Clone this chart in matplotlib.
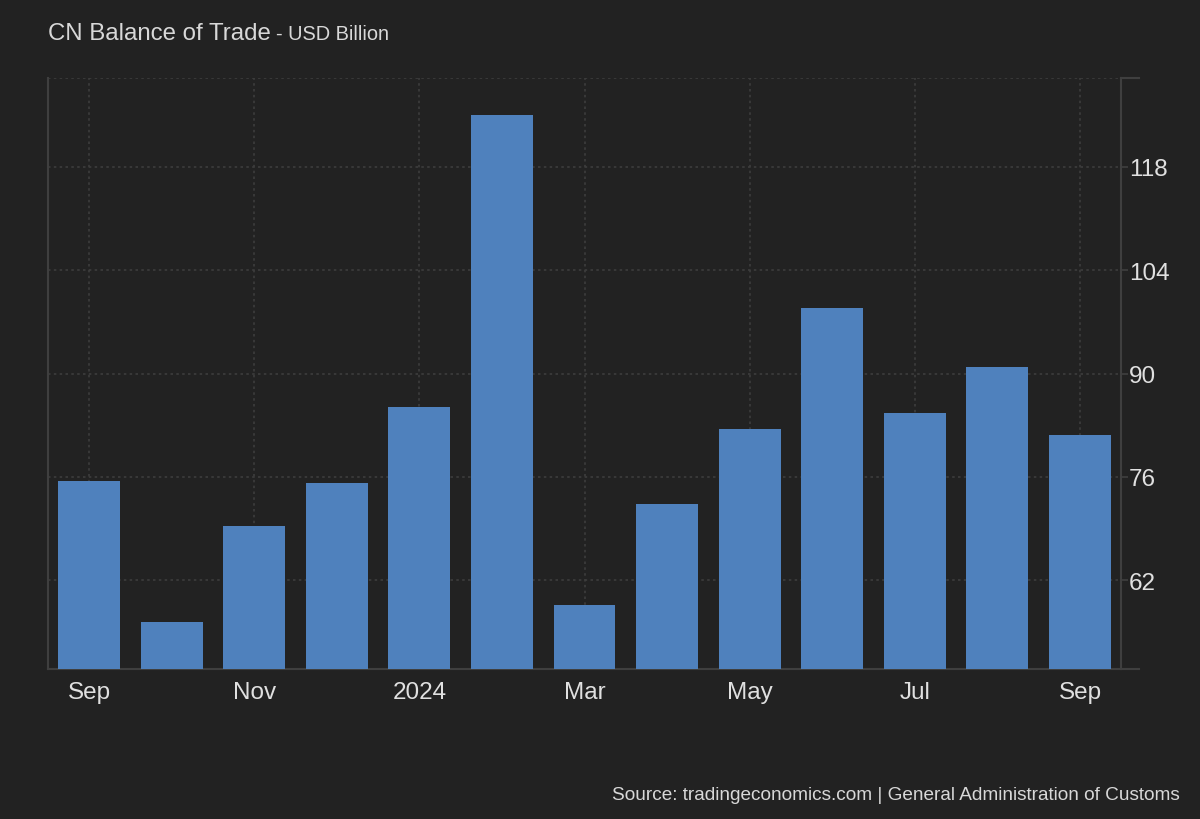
import matplotlib
matplotlib.use("Agg")
import matplotlib.pyplot as plt
import numpy as np

# ── Data (USD billion) ──
months = ['Sep', 'Oct', 'Nov', 'Dec', 'Jan', 'Feb', 'Mar',
          'Apr', 'May', 'Jun', 'Jul', 'Aug', 'Sep']
balance = [75.4, 56.3, 69.4, 75.2, 85.5, 125.0, 58.6,
           72.3, 82.5, 98.9, 84.6, 90.9, 81.7]
xtick_pos = [0, 2, 4, 6, 8, 10, 12]
xtick_labels = ['Sep', 'Nov', '2024', 'Mar', 'May', 'Jul', 'Sep']
ytick_vals = [62, 76, 90, 104, 118]

BG = '#222222'
BAR = '#4f81bd'
GRID = '#3d3d3d'
AXIS = '#3f3f3f'
TEXT = '#e0e0e0'

plt.rcParams['font.family'] = ['Liberation Sans', 'DejaVu Sans']

fig = plt.figure(figsize=(12, 8.2), dpi=100, facecolor=BG)
W, H = 1200, 820
left, right, top, bottom = 47.7, 1121.3, 79, 670
ax = fig.add_axes([left / W, (H - bottom) / H, (right - left) / W, (bottom - top) / H])
ax.set_facecolor(BG)

x = np.arange(len(balance))
ax.bar(x, balance, width=0.75, color=BAR, zorder=3)

ax.set_xlim(-0.5, 12.5)
ax.set_ylim(50, 130)

# grid
ax.set_xticks(xtick_pos)
ax.set_xticklabels(xtick_labels)
ax.set_yticks(ytick_vals)
ax.grid(True, color=GRID, linestyle=(0, (1.5, 2)), linewidth=1.2, zorder=0)
ax.axhline(130, color=GRID, linestyle=(0, (1.5, 2)), linewidth=1.2, zorder=0)

ax.spines['top'].set_visible(False)
for s in ['left', 'right', 'bottom']:
    ax.spines[s].set_color(AXIS)
    ax.spines[s].set_linewidth(1.5)

ax.yaxis.tick_right()
ax.tick_params(axis='y', colors=AXIS, length=5, width=1.2, pad=0.5,
               labelcolor=TEXT, labelsize=17.5)
ax.tick_params(axis='x', length=0, pad=9, labelcolor=TEXT, labelsize=17.5)

# frame extensions past the right axis (top and bottom)
ext = 18 / (right - left)
for yy in (0, 1):
    ax.plot([1, 1 + ext], [yy, yy], transform=ax.transAxes, color=AXIS,
            linewidth=1.5, clip_on=False)

# titles
fig.text(48 / W, 1 - 40 / H, 'CN Balance of Trade', color='#d8d8d8',
         fontsize=17.3, va='baseline', ha='left')
fig.text(276 / W, 1 - 40 / H, '- USD Billion', color='#d8d8d8',
         fontsize=14.4, va='baseline', ha='left')
fig.text(1180 / W, 1 - 796 / H,
         'Source: tradingeconomics.com | General Administration of Customs',
         color='#d8d8d8', fontsize=13.7, va='center', ha='right')

fig.savefig('out.png', dpi=100, facecolor=BG)
